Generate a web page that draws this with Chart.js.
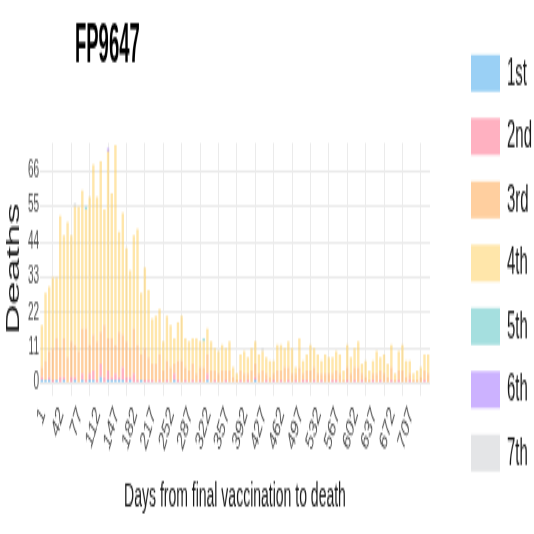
<!DOCTYPE html>
<html lang="en">
<head>
<meta charset="UTF-8">
<title>FP9647</title>
<script src="https://cdn.jsdelivr.net/npm/chart.js@4.4.0/dist/chart.umd.min.js"></script>
<style>
  html, body { margin: 0; padding: 0; background: #fff; overflow: hidden; width: 534px; height: 534px; }
  #page { position: relative; width: 534px; height: 534px; overflow: hidden; }
  /* the source picture is a squat chart stretched tall, so draw it squat and stretch it */
  #wrap { position: absolute; left: 0; top: 0; width: 534px; height: 232px; transform: scaleY(2.3017); transform-origin: 0 0; }
</style>
</head>
<body>
<div id="page"><div id="wrap"><canvas id="chart" width="534" height="232"></canvas></div></div>
<script>
const chartTitle = 'FP9647';

// weekly bins of days since the last dose (first bin is labelled 1)
const days = [1];
for (let w = 2; w <= 106; w++) days.push(7 * w);

const xTickLabels = ['1', '42', '77', '112', '147', '182', '217', '252', '287', '322', '357',
  '392', '427', '462', '497', '532', '567', '602', '637', '672', '707'];
const yTicks = [0, 11, 22, 33, 44, 55, 66];

const first = [1,1,1,0,1,0,1,0,0,1, 0,1,0,1,1,0,2,0,1,1, 1,1,1,0,1,0,0,1,0,0,
  0,0,0,0,0,0,1,0,0,0, 0,0,0,0,0,1,0,0,0,0, 0,0,0,0,0,0,0,0,1,0,
  0,0,0,0,0,0,0,0,0,0, 0,0,0,0,0,0,0,0,0,0, 0,0,0,0,0,0,0,0,0,0,
  0,0,0,0,0,0,0,0,0,0, 0,0,0,0,0,0];
const second = [1,0,1,1,0,2,1,0,2,1, 0,2,1,2,3,1,4,2,3,1, 2,1,4,2,1,3,1,0,1,1,
  1,0,1,0,1,0,2,1,0,1, 0,1,0,1,0,2,0,1,0,0, 1,0,0,0,1,0,1,0,1,0,
  0,1,0,1,0,1,0,1,0,1, 0,1,1,0,1,0,1,0,0,1, 1,0,0,1,0,1,0,1,0,0,
  1,0,1,0,0,1,0,1,0,0, 1,0,0,0,1,0];
const third = [3,6,8,10,13,9,12,8,11,10, 10,14,16,9,11,12,10,16,10,12, 9,14,10,11,9,14,11,8,10,7,
  5,6,8,4,6,5,3,6,7,4, 4,5,3,4,5,6,4,3,3,4, 3,4,2,1,3,3,2,4,4,3,
  4,2,2,2,4,3,5,4,3,2, 5,2,3,4,4,3,2,3,3,2, 3,3,1,4,3,4,5,2,2,1,
  2,3,3,3,2,4,1,3,4,2, 2,1,1,2,3,3];
const fourth = [13,21,20,22,19,41,32,42,33,43, 45,43,37,46,53,45,53,36,58,45, 62,31,38,29,24,29,36,19,25,21,
  14,15,14,9,14,13,8,12,14,9, 9,8,11,8,8,8,9,7,7,8, 7,9,3,2,5,7,5,7,7,6,
  6,5,5,4,8,8,6,8,8,2, 9,4,5,8,6,6,4,6,5,5, 6,6,3,7,5,6,8,3,5,3,
  4,7,4,6,4,7,2,6,8,5, 4,2,3,3,5,6];
const fifth = [0,0,0,0,0,0,0,0,0,0, 0,0,1,0,0,0,0,0,0,0, 0,0,0,0,0,0,0,0,0,0,
  0,0,0,0,0,0,0,0,0,0, 0,0,0,0,1,0,0,0,0,0, 0,0,0,0,0,0,0,0,0,0,
  0,0,0,0,0,0,0,0,0,0, 0,0,0,0,0,0,0,0,0,0, 0,0,0,0,0,0,0,0,0,0,
  0,0,0,0,0,0,0,0,0,0, 0,0,0,0,0,0];
const sixth = [0,0,0,0,0,0,0,0,0,0, 0,0,0,0,0,0,0,0,1,0, 0,0,0,0,0,0,0,0,0,0,
  0,0,0,0,0,0,0,0,0,0, 0,0,0,0,0,0,0,0,0,0, 0,0,0,0,0,0,0,0,0,0,
  0,0,0,0,0,0,0,0,0,0, 0,0,0,0,0,0,0,0,0,0, 0,0,0,0,0,0,0,0,0,0,
  0,0,0,0,0,0,0,0,0,0, 0,0,0,0,0,0];
const seventh = [0,0,0,0,0,0,0,0,0,1, 0,0,0,0,0,0,0,0,0,0, 0,0,0,0,0,0,0,0,0,0,
  0,0,0,0,0,0,0,0,0,0, 0,0,0,0,0,0,0,0,0,0, 0,0,0,0,0,0,0,0,0,0,
  1,0,0,0,0,0,0,0,0,0, 0,0,0,0,0,0,0,0,0,0, 0,0,0,0,0,0,0,0,0,0,
  0,0,0,0,0,0,0,0,0,0, 0,0,0,0,0,0];

const doseLabels = ['1st', '2nd', '3rd', '4th', '5th', '6th', '7th'];
const doseValues = [first, second, third, fourth, fifth, sixth, seventh];
const doseColors = [
  'rgba(54, 162, 235, 0.5)',
  'rgba(255, 99, 132, 0.5)',
  'rgba(255, 159, 64, 0.5)',
  'rgba(255, 205, 86, 0.5)',
  'rgba(75, 192, 192, 0.5)',
  'rgba(153, 102, 255, 0.5)',
  'rgba(201, 203, 207, 0.5)'
];

const FONT = '"Liberation Sans", Arial, sans-serif';
Chart.defaults.font.family = FONT;

// big narrow title, top left
const titlePlugin = {
  id: 'fpTitle',
  afterDraw(chart) {
    const ctx = chart.ctx;
    ctx.save();
    ctx.translate(75, 26.5);
    ctx.scale(0.77, 1);
    ctx.font = 'bold 24px ' + FONT;
    ctx.fillStyle = '#000';
    ctx.textBaseline = 'alphabetic';
    ctx.fillText(chartTitle, 0, 0);
    ctx.restore();
  }
};

// legend column on the right
const sideLegend = {
  id: 'sideLegend',
  afterDraw(chart) {
    const ctx = chart.ctx;
    chart.data.datasets.forEach((ds, i) => {
      const yc = 31.8 + i * 27.5;
      ctx.save();
      ctx.fillStyle = ds.backgroundColor;
      ctx.fillRect(471, yc - 8, 29, 16);
      ctx.translate(507, yc + 0.5);
      ctx.scale(0.88, 1);
      ctx.font = '17px ' + FONT;
      ctx.fillStyle = '#1a1a1a';
      ctx.textBaseline = 'middle';
      ctx.fillText(ds.label, 0, 0);
      ctx.restore();
    });
  }
};

const ctx = document.getElementById('chart').getContext('2d');
const chart = new Chart(ctx, {
  type: 'bar',
  data: {
    labels: days,
    datasets: doseLabels.map((label, i) => ({
      label: label,
      data: doseValues[i],
      backgroundColor: doseColors[i],
      borderWidth: 0,
      barPercentage: 0.65,
      categoryPercentage: 1
    }))
  },
  options: {
    responsive: false,
    animation: false,
    layout: { padding: { top: 62.1, right: 104, bottom: 0, left: 0 } },
    plugins: {
      legend: { display: false },
      title: { display: false },
      tooltip: { enabled: false }
    },
    scales: {
      x: {
        stacked: true,
        border: { display: false },
        grid: {
          offset: false,
          drawTicks: false,
          lineWidth: 1,
          color: c => (c.index % 5 === 3 ? '#ebebeb' : 'rgba(0,0,0,0)')
        },
        ticks: {
          autoSkip: false,
          minRotation: 58,
          maxRotation: 58,
          padding: 3,
          labelOffset: -10,
          color: '#4d4d4d',
          font: { size: 11.5 },
          callback: (value, index) => (index % 5 === 3 ? xTickLabels[(index - 3) / 5] : '')
        },
        title: {
          display: true,
          text: 'Days from final vaccination to death',
          color: '#1a1a1a',
          font: { size: 14 },
          padding: { top: 0, bottom: 7.6 }
        },
        afterFit: s => { s.height = 60.4; }
      },
      y: {
        stacked: true,
        min: -3.65,
        max: 74.7,
        border: { display: false },
        grid: { drawTicks: false, color: '#ebebeb', lineWidth: 1 },
        afterBuildTicks: s => { s.ticks = yTicks.map(v => ({ value: v })); },
        ticks: { color: '#4d4d4d', font: { size: 10 }, padding: 1 },
        title: {
          display: true,
          text: 'Deaths',
          color: '#1a1a1a',
          font: { size: 18 },
          padding: { top: 3.5, bottom: 0 }
        },
        afterFit: s => { s.width = 40; }
      }
    }
  },
  plugins: [titlePlugin, sideLegend]
});
</script>
</body>
</html>
